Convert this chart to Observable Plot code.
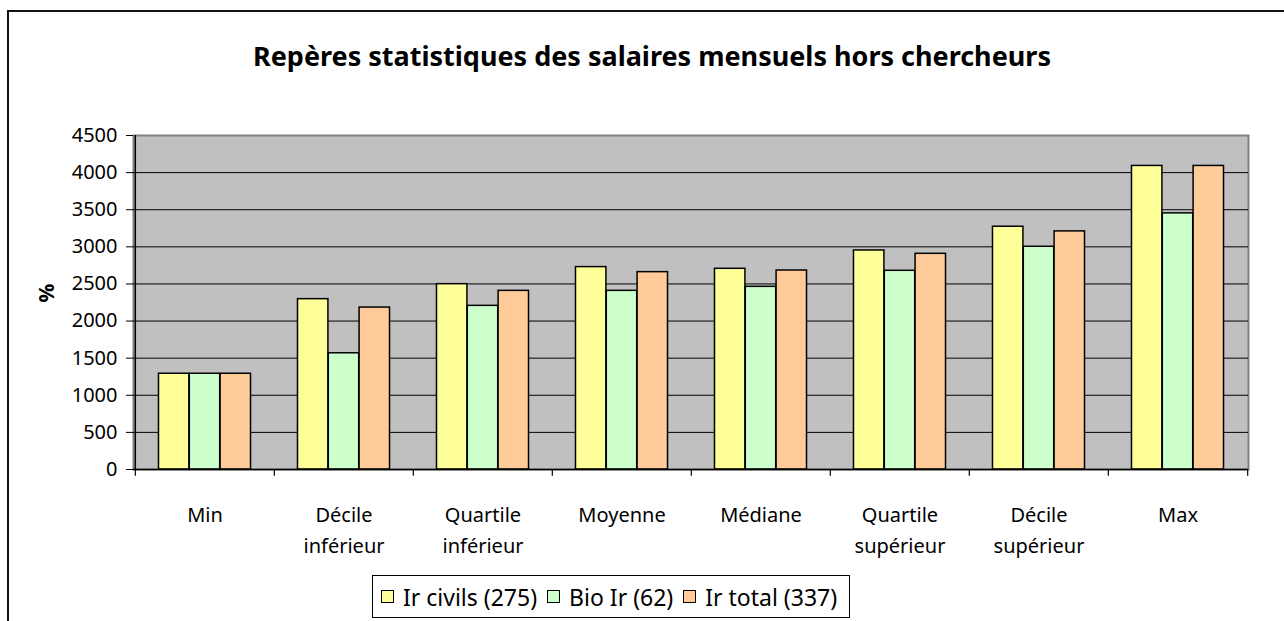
<!DOCTYPE html>
<html><head><meta charset="utf-8">
<script src="https://cdn.jsdelivr.net/npm/d3@7"></script>
<script src="https://cdn.jsdelivr.net/npm/@observablehq/plot@0.6"></script>
<style>
body{margin:0;background:#fff;font-family:"Noto Sans",sans-serif;}
#wrap{position:relative;width:1284px;height:621px;overflow:hidden;background:#fff;}
#border{position:absolute;left:7px;top:10px;width:1400px;height:800px;border:2px solid #111;}
#chart{position:absolute;left:0;top:0;}
#title{position:absolute;left:0;width:1304px;top:38px;text-align:center;font-weight:bold;font-size:27px;line-height:36px;color:#000;}
#legend{position:absolute;left:372px;top:575px;width:478px;height:43px;box-sizing:border-box;border:1px solid #000;display:flex;align-items:center;padding-left:8px;font-size:23px;color:#000;background:#fff;}
.sw{width:13px;height:13px;box-sizing:border-box;border:1px solid #000;margin-right:9px;flex:none;}
.it{display:flex;align-items:center;margin-right:10px;white-space:nowrap;}
</style></head>
<body>
<div id="wrap">
  <div id="border"></div>
  <div id="chart"></div>
  <div id="title">Repères statistiques des salaires mensuels hors chercheurs</div>
  <div id="legend"></div>
</div>
<script>
const categories = ["Min", "Décile inférieur", "Quartile inférieur", "Moyenne", "Médiane", "Quartile supérieur", "Décile supérieur", "Max"];
const categoryLabels = ["Min", "Décile\ninférieur", "Quartile\ninférieur", "Moyenne", "Médiane", "Quartile\nsupérieur", "Décile\nsupérieur", "Max"];
const seriesNames = ["Ir civils (275)", "Bio Ir (62)", "Ir total (337)"];
const seriesColors = ["#FFFF99", "#CCFFCC", "#FFCC99"];
const irCivils = [1290, 2295, 2497, 2727, 2704, 2951, 3271, 4090];
const bioIr = [1290, 1566, 2205, 2407, 2461, 2677, 3001, 3451];
const irTotal = [1290, 2182, 2407, 2659, 2681, 2906, 3208, 4090];
const yTicks = [0, 500, 1000, 1500, 2000, 2500, 3000, 3500, 4000, 4500];
const gridTicks = [500, 1000, 1500, 2000, 2500, 3000, 3500, 4000];

const seriesValues = [irCivils, bioIr, irTotal];
const W = 1284, H = 621;
const mL = 133, mR = 36, mT = 135, mB = 152;
const step = (W - mL - mR) / categories.length;
const barW = 30.8;
const outer = (step - 3 * barW) / 2;
const labelOf = new Map(categories.map((c, i) => [c, categoryLabels[i]]));

const barMarks = seriesValues.map((vals, i) => {
  const data = categories.map((c, j) => ({category: c, value: vals[j]}));
  return Plot.barY(data, {
    x: "category", y: "value",
    fill: seriesColors[i], stroke: "#000", strokeWidth: 1.5,
    insetLeft: outer + barW * i,
    insetRight: step - outer - barW * (i + 1)
  });
});

const chart = Plot.plot({
  width: W, height: H,
  marginLeft: mL, marginRight: mR, marginTop: mT, marginBottom: mB,
  style: {background: "transparent", fontFamily: "Noto Sans", fontSize: "20px", color: "#000"},
  x: {domain: categories, padding: 0},
  y: {domain: [0, 4500]},
  marks: [
    Plot.frame({fill: "#C0C0C0", stroke: "#808080", strokeWidth: 2}),
    Plot.ruleY(gridTicks, {stroke: "#000", strokeWidth: 1}),
    ...barMarks,
    Plot.ruleY([0], {stroke: "#000", strokeWidth: 1.5}),
    Plot.ruleX([categories[0]], {dx: -step / 2, stroke: "#000", strokeWidth: 1.5}),
    Plot.ruleX(categories, {dx: -step / 2, y1: 0, y2: -90, stroke: "#000", strokeWidth: 1.2, clip: false}),
    Plot.ruleX([categories[categories.length - 1]], {dx: step / 2, y1: 0, y2: -90, stroke: "#000", strokeWidth: 1.2}),
    Plot.axisY({ticks: yTicks, tickSize: 7, tickPadding: 9, tickFormat: d => String(d), label: null, fontSize: 20, stroke: "#000"}),
    Plot.axisX({tickSize: 0, tickPadding: 30, tickFormat: d => labelOf.get(d), label: null, fontSize: 20, lineHeight: 1.55}),
    Plot.text(["%"], {text: d => d, frameAnchor: "left", dx: -86, rotate: -90, fontWeight: "bold", fontSize: 21})
  ]
});
document.getElementById("chart").appendChild(chart);

const legend = document.getElementById("legend");
seriesNames.forEach((n, i) => {
  const it = document.createElement("div");
  it.className = "it";
  const sw = document.createElement("div");
  sw.className = "sw";
  sw.style.background = seriesColors[i];
  const t = document.createElement("span");
  t.textContent = n;
  it.appendChild(sw); it.appendChild(t);
  legend.appendChild(it);
});
</script>
</body></html>
